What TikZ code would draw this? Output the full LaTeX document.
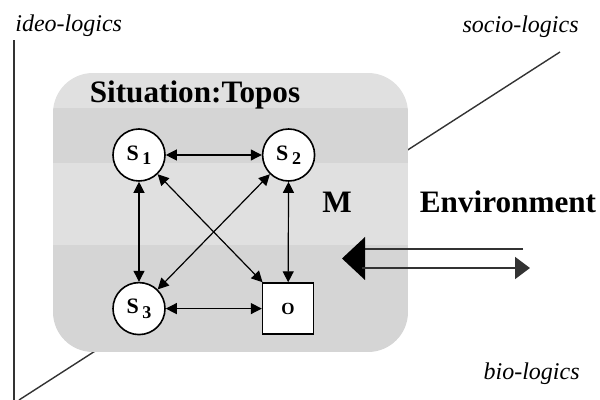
\documentclass[tikz,border=0pt]{standalone}
\usepackage{fontspec}
\setmainfont{Liberation Serif}
\usetikzlibrary{arrows.meta,positioning}
\definecolor{boxlight}{HTML}{E0E0E0}
\definecolor{boxdark}{HTML}{D5D5D5}
\definecolor{axisgray}{HTML}{333333}
\tikzset{
  agent/.style={
    circle, draw=black, fill=white, line width=0.8pt,
    minimum size=26pt, inner sep=0pt,
    font=\fontsize{11}{12}\selectfont\bfseries
  },
  thing/.style={
    rectangle, draw=black, fill=white, line width=0.8pt,
    minimum size=25.5pt, inner sep=0pt,
    font=\fontsize{8.5}{9}\selectfont\bfseries
  },
  heading/.style={font=\fontsize{15.6}{17}\selectfont\bfseries, inner sep=0pt},
  axislabel/.style={font=\fontsize{12}{14}\selectfont\itshape, inner sep=0pt},
  axis/.style={line width=0.7pt, draw=axisgray},
  link/.style={{Triangle[length=5.5pt,width=5.5pt]}-{Triangle[length=5.5pt,width=5.5pt]}, line width=0.6pt},
  flow/.style={line width=1pt, draw=axisgray}
}
\newcommand{\agentname}[2]{#1\,\raisebox{-0.45ex}{\fontsize{9}{9}\selectfont #2}}

\begin{document}
\begin{tikzpicture}[x=0.5pt, y=-0.5pt, node distance=48pt]
\useasboundingbox (0,0) rectangle (600,400);
% axes of the three logics
\coordinate (origin) at (14,400);
\coordinate (ideo) at (14,40);
\coordinate (bio) at (19,400);
\coordinate (socio) at (560,52);
\draw[axis] (origin) -- (ideo);
\draw[axis] (bio) -- (socio);
\node[axislabel, anchor=base west] (ideolbl) at (15,32) {ideo-logics};
\node[axislabel, anchor=base east] (sociolbl) at (579,33) {socio-logics};
\node[axislabel, anchor=base east] (biolbl) at (580,380) {bio-logics};
% situation box, banded
\begin{scope}
  \clip[rounded corners=20] (53,73) rectangle (408,352);
  \fill[boxlight] (53,73) rectangle (408,108);
  \fill[boxdark] (53,108) rectangle (408,163);
  \fill[boxlight] (53,163) rectangle (408,245);
  \fill[boxdark] (53,245) rectangle (408,352);
\end{scope}
\node[heading, anchor=base] (topos) at (195,103) {Situation:Topos};
% subjects and object
\node[agent] (s1) at (139,155) {\agentname{S}{1}};
\node[agent, right=of s1] (s2) {\agentname{S}{2}};
\node[agent, below=50pt of s1] (s3) {\agentname{S}{3}};
\node[thing, right=of s3] (o) {O};
\draw[link] (s1) -- (s2);
\draw[link] (s1) -- (s3);
\draw[link] (s2) -- (o);
\draw[link] (s3) -- (o);
\draw[link] (s1) -- (o);
\draw[link] (s2) -- (s3);
\node[heading, anchor=base] (m) at (337,213) {M};
\node[heading, anchor=base] (env) at (508,213) {Environment};
% exchange with the environment
\coordinate (intail) at (523,249);
\coordinate (inhead) at (362,249);
\coordinate (tippoint) at (342,258.5);
\coordinate (outtail) at (362,268);
\coordinate (outhead) at (530,268);
\draw[flow] (intail) -- (inhead);
\fill[black] (tippoint) -- ++(23,-21.5) -- ++(0,43) -- cycle;
\draw[flow, -{Triangle[length=7.5pt,width=11pt]}] (outtail) -- (outhead);
\end{tikzpicture}
\end{document}
